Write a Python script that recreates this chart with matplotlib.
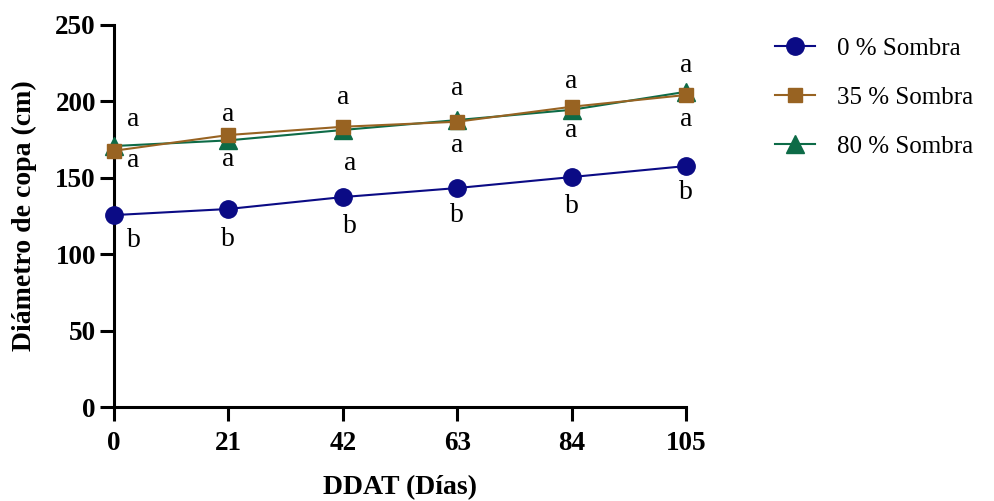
import matplotlib
matplotlib.use("Agg")
import matplotlib.pyplot as plt

days = [0, 21, 42, 63, 84, 105]
sombra0 = [125.6, 129.6, 137.4, 143.3, 150.5, 157.7]
sombra35 = [167.7, 178.0, 183.4, 186.7, 196.5, 204.2]
sombra80 = [170.8, 174.5, 181.3, 187.8, 194.5, 206.3]
letters_top = ["a", "a", "a", "a", "a", "a"]
letters_mid = ["a", "a", "a", "a", "a", "a"]
letters_low = ["b", "b", "b", "b", "b", "b"]
yticks = [0, 50, 100, 150, 200, 250]

plt.rcParams['font.family'] = ['Liberation Serif', 'DejaVu Serif']

fig = plt.figure(figsize=(9.94, 5.01), dpi=100)
ax = fig.add_axes([0.1147, 0.1876, 0.5755, 0.7625])

c0 = '#0b0b85'
c35 = '#986322'
c80 = '#0d6b47'

ax.plot(days, sombra0, color=c0, lw=1.5, marker='o', ms=12.5, label='0 % Sombra', zorder=3)
ax.plot(days, sombra80, color=c80, lw=1.5, marker='^', ms=13, label='80 % Sombra', zorder=3)
ax.plot(days, sombra35, color=c35, lw=1.5, marker='s', ms=9.5, label='35 % Sombra', zorder=4)

# label offsets in points (style only)
top_dy = {0: 19, 1: 15, 2: 21, 3: 23, 4: 18, 5: 19}
mid_dy = {0: -7, 1: -14, 2: -24, 3: -17, 4: -15, 5: -18}
low_dy = {0: -18, 1: -22, 2: -21, 3: -20, 4: -21, 5: -19}
for i, x in enumerate(days):
    hi = max(sombra35[i], sombra80[i])
    lo = min(sombra35[i], sombra80[i])
    dx = 14 if i == 0 else 0
    dxl = 14 if i == 0 else (5 if i == 2 else 0)
    ax.annotate(letters_top[i], (x, hi), xytext=(dx, top_dy[i]), textcoords='offset points',
                ha='center', va='center', fontsize=20)
    ax.annotate(letters_mid[i], (x, lo), xytext=(dxl, mid_dy[i]), textcoords='offset points',
                ha='center', va='center', fontsize=20)
    ax.annotate(letters_low[i], (x, sombra0[i]), xytext=(dxl, low_dy[i]), textcoords='offset points',
                ha='center', va='center', fontsize=20)

ax.set_xlim(0, 105)
ax.set_ylim(0, 250)
ax.set_xticks(days)
ax.set_yticks(yticks)
for s in ['top', 'right']:
    ax.spines[s].set_visible(False)
for s in ['left', 'bottom']:
    ax.spines[s].set_linewidth(2.2)
ax.tick_params(axis='both', width=2.2, length=10, labelsize=19.5, pad=3)
ax.tick_params(axis='x', pad=7)
for lab in ax.get_xticklabels() + ax.get_yticklabels():
    lab.set_fontweight('bold')
ax.set_xlabel('DDAT (Días)', fontsize=20, fontweight='bold', labelpad=14)
ax.set_ylabel('Diámetro de copa (cm)', fontsize=20, fontweight='bold', labelpad=13)

h, l = ax.get_legend_handles_labels()
order = [0, 2, 1]
leg = fig.legend([h[k] for k in order], [l[k] for k in order], loc='upper left',
                 bbox_to_anchor=(0.757, 0.97), frameon=False, fontsize=18,
                 handlelength=1.6, labelspacing=1.05, handletextpad=0.9)
for c in ax.get_children():
    c.set_clip_on(False)

fig.savefig('out.png', dpi=100)
